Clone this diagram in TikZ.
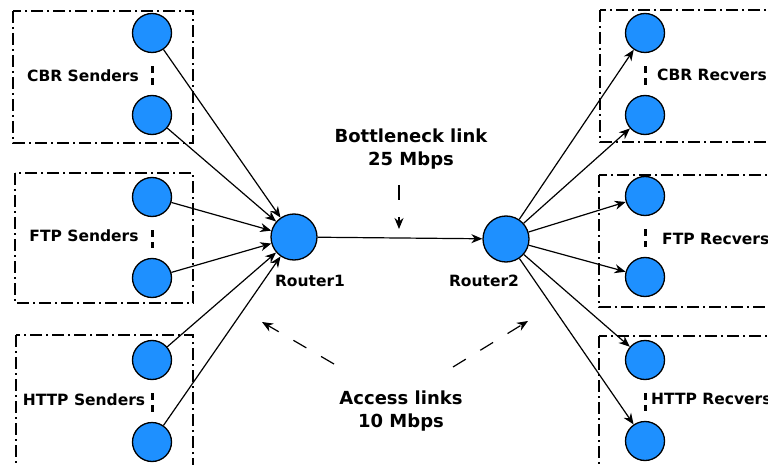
\documentclass[tikz,border=0pt]{standalone}
\usepackage{fontspec}
\setmainfont{DejaVu Sans}
\usetikzlibrary{arrows.meta}
\definecolor{hostblue}{RGB}{30,144,255}

\begin{document}
\begin{tikzpicture}[
  x=1pt, y=-1pt,
  font=\fontsize{15.5}{22}\selectfont\bfseries,
  host/.style={circle, draw, line width=1.3pt, fill=hostblue,
               minimum size=39pt, inner sep=0pt},
  router/.style={host, minimum size=46pt},
  grp/.style={line width=1.3pt, dash pattern=on 12pt off 4pt on 2pt off 4pt},
  link/.style={-{Stealth[length=11pt,width=9pt,inset=3.5pt]}, line width=1.2pt},
  note/.style={link, dash pattern=on 15pt off 17pt},
  vdots/.style={line width=3pt, dash pattern=on 7pt off 5pt,
                shorten <=13pt, shorten >=10pt},
  lbl/.style={inner sep=0pt},
  biglbl/.style={lbl, align=center, anchor=north,
                 font=\fontsize{18}{23}\selectfont\bfseries}
]
  \useasboundingbox (0,0) rectangle (768,465);

  % groups
  \draw[grp] (13,11) rectangle (193,143);
  \draw[grp] (15,173) rectangle (193,303);
  \draw[grp] (16,335) rectangle (193,490);
  \draw[grp] (600,10) rectangle (790,142);
  \draw[grp] (599,175) rectangle (790,307);
  \draw[grp] (599,336) rectangle (790,490);

  % senders
  \node[host] (cbrs1)  at (152,33)  {};
  \node[host] (cbrs2)  at (152,115) {};
  \node[host] (ftps1)  at (152,197) {};
  \node[host] (ftps2)  at (152,278) {};
  \node[host] (https1) at (152,360) {};
  \node[host] (https2) at (152,442) {};

  % receivers
  \node[host] (cbrr1)  at (645,33)  {};
  \node[host] (cbrr2)  at (645,115) {};
  \node[host] (ftpr1)  at (645,196) {};
  \node[host] (ftpr2)  at (645,277) {};
  \node[host] (httpr1) at (645,360) {};
  \node[host] (httpr2) at (645,441) {};

  % routers
  \node[router] (r1) at (294,237) {};
  \node[router] (r2) at (506,239) {};
  \node[lbl] (r1lbl) at (310,281) {Router1};
  \node[lbl] (r2lbl) at (484,281) {Router2};

  \draw[vdots] (cbrs1) -- (cbrs2);
  \draw[vdots] (ftps1) -- (ftps2);
  \draw[vdots] (https1) -- (https2);
  \draw[vdots] (cbrr1) -- (cbrr2);
  \draw[vdots] (ftpr1) -- (ftpr2);
  \draw[vdots] (httpr1) -- (httpr2);

  \node[lbl] (cbrslbl)  at (83,76)  {CBR Senders};
  \node[lbl] (ftpslbl)  at (84,236) {FTP Senders};
  \node[lbl] (httpslbl) at (84,400) {HTTP Senders};
  \node[lbl, anchor=west] (cbrrlbl)  at (657,75)  {CBR Recvers};
  \node[lbl, anchor=west] (ftprlbl)  at (662,239) {FTP Recvers};
  \node[lbl, anchor=west] (httprlbl) at (651,399) {HTTP Recvers};

  % access links
  \draw[link] (cbrs1) -- (r1);
  \draw[link] (cbrs2) -- (r1);
  \draw[link] (ftps1) -- (r1);
  \draw[link] (ftps2) -- (r1);
  \draw[link] (https1) -- (r1);
  \draw[link] (https2) -- (r1);
  \draw[link] (r2) -- (cbrr1);
  \draw[link] (r2) -- (cbrr2);
  \draw[link] (r2) -- (ftpr1);
  \draw[link] (r2) -- (ftpr2);
  \draw[link] (r2) -- (httpr1);
  \draw[link] (r2) -- (httpr2);

  % bottleneck
  \draw[link] (r1) -- (r2);

  \node[biglbl] (bneck) at (411,129) {Bottleneck link\\25 Mbps};
  \node[biglbl] (access) at (401,391) {Access links\\10 Mbps};

  \coordinate (bnfrom) at (399,185);
  \coordinate (bnto) at (399,229);
  \coordinate (acclfrom) at (334,364);
  \coordinate (acclto) at (262,322);
  \coordinate (accrfrom) at (453,367);
  \coordinate (accrto) at (528,321);
  \draw[note] (bnfrom) -- (bnto);
  \draw[note] (acclfrom) -- (acclto);
  \draw[note] (accrfrom) -- (accrto);
\end{tikzpicture}
\end{document}
